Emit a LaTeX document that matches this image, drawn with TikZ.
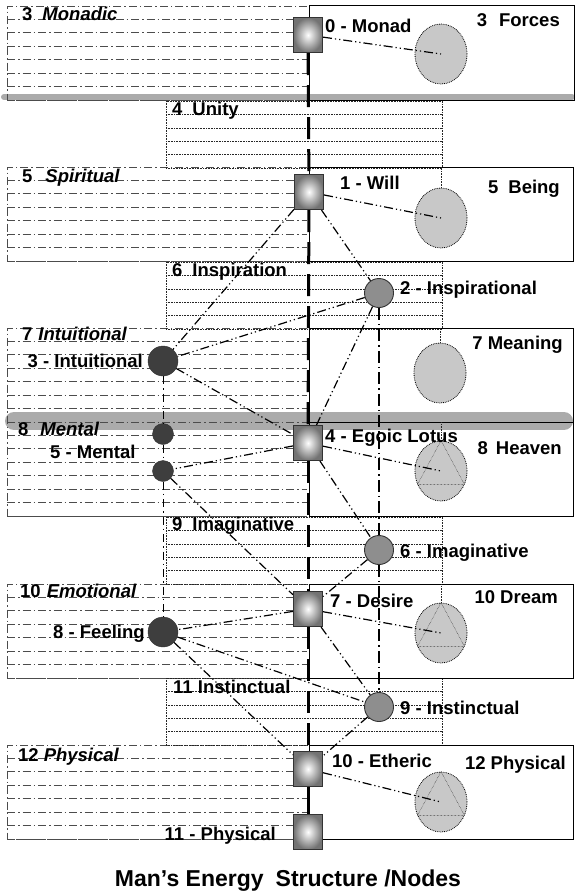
\documentclass[tikz,border=0pt]{standalone}
\usepackage{fontspec}
\setmainfont{Liberation Sans}
\usetikzlibrary{shapes.geometric}
\definecolor{ebar}{HTML}{ABABAB}
\definecolor{efill}{HTML}{C8C8C8}
\definecolor{emid}{HTML}{8E8E8E}
\definecolor{edark}{HTML}{3E3E3E}

\begin{document}
\begin{tikzpicture}[x=1pt, y=-1pt,
    planeline/.style={black!70, line width=0.8pt, dash pattern=on 8pt off 3pt on 1.5pt off 3pt},
    subline/.style={black!85, line width=0.6pt, densely dotted},
    bodyline/.style={black, line width=0.9pt},
    tie/.style={black, line width=1.2pt, dash pattern=on 9pt off 3pt on 1.2pt off 3pt on 1.2pt off 3pt},
    spine/.style={black, line width=3pt, dash pattern=on 22pt off 10pt},
    leftline/.style={black, line width=0.9pt, dash pattern=on 8pt off 4pt on 1.5pt off 4pt},
    midline/.style={black, line width=1.4pt, dash pattern=on 12pt off 4pt on 1.5pt off 4pt},
    sqnode/.style={rectangle, draw=black!80, line width=1.1pt, inner color=white, outer color=black!55, minimum width=29pt, minimum height=35pt, inner sep=0pt},
    bodyring/.style={ellipse, draw=black, line width=0.8pt, densely dotted, fill=efill, minimum width=52pt, minimum height=60pt, inner sep=0pt},
    midring/.style={circle, draw=black!80, line width=0.9pt, fill=emid, minimum size=29pt, inner sep=0pt},
    darkring/.style={circle, draw=black!80, fill=edark, inner sep=0pt},
    lbl/.style={font=\fontsize{18.5}{20}\selectfont\bfseries, inner sep=0pt}]
  \useasboundingbox (0,0) rectangle (576,894);

  % grey plane bars
  \draw[ebar, line width=6pt, line cap=round] (4,97) -- (572,97);
  \draw[ebar, line width=18pt, line cap=round] (14,421) -- (564,421);

  % left planes
  \foreach \ytop/\nrows in {6/7, 167/7, 328/14, 584/7, 745/7} {
    \draw[planeline] (307,\ytop) -- (7,\ytop) -- (7,\ytop+\nrows*13.43) -- (307,\ytop+\nrows*13.43);
    \foreach \i in {1,...,\nrows}
      \draw[planeline] (7,\ytop+\i*13.43) -- (307,\ytop+\i*13.43);
  }
  % middle planes
  \foreach \ytop in {101, 262, 517, 678} {
    \draw[subline] (166,\ytop) rectangle (442,\ytop+67);
    \foreach \i in {1,...,4}
      \draw[subline] (166,\ytop+\i*13.4) -- (442,\ytop+\i*13.4);
  }
  % right planes
  \draw[bodyline] (309,5) rectangle (574,100);
  \draw[bodyline] (309,167) rectangle (573,261);
  \draw[bodyline] (309,328) rectangle (573,422);
  \draw[bodyline] (309,422) rectangle (573,516);
  \draw[bodyline] (309,584) rectangle (573,678);
  \draw[bodyline] (309,745) rectangle (573,839);

  % nodes
  \node[sqnode] (monad) at (308,35) {};
  \node[sqnode] (will) at (309,192) {};
  \node[sqnode] (lotus) at (308,443) {};
  \node[sqnode] (desire) at (308,609) {};
  \node[sqnode] (etheric) at (308,769) {};
  \node[sqnode] (phys) at (308,832) {};

  \node[bodyring] (forces) at (441,54) {};
  \node[bodyring] (being) at (441,218) {};
  \node[bodyring] (meaning) at (440,373) {};
  \node[bodyring] (heaven) at (441,471) {};
  \node[bodyring] (dream) at (441,633) {};
  \node[bodyring] (physc) at (441,802) {};
  \foreach \r in {heaven, dream, physc}
    \draw[black, densely dotted] (\r.north) -- (\r.-30) -- (\r.210) -- cycle;
  \foreach \r/\h in {being/21, meaning/15, heaven/19, dream/19}
    \draw[subline] (\r.north) -- +(0,-\h);

  \node[midring] (inspir) at (379,293) {};
  \node[midring] (imagin) at (379,550) {};
  \node[midring] (instinct) at (379,707) {};

  \node[darkring, minimum size=30pt] (intuit) at (163,361) {};
  \node[darkring, minimum size=21pt] (mentA) at (163,434) {};
  \node[darkring, minimum size=21pt] (mentB) at (163,471) {};
  \node[darkring, minimum size=30pt] (feel) at (163,632) {};

  % connectors
  \foreach \a/\b in {monad/will, will/lotus, lotus/desire, desire/etheric}
    \draw[spine] (\a) -- (\b);
  \draw[black, line width=2pt] (etheric) -- (phys);
  \foreach \a/\b in {intuit/mentA, mentA/mentB, mentB/feel}
    \draw[leftline] (\a) -- (\b);
  \foreach \a/\b in {inspir/imagin, imagin/instinct}
    \draw[midline] (\a) -- (\b);
  \foreach \a/\b in {monad/forces.center, will/being.center, lotus/heaven.center,
      desire/dream.center, etheric/physc.center, will/intuit, will/inspir,
      inspir/intuit, inspir/lotus, intuit/lotus, lotus/mentB, lotus/imagin,
      mentB/desire, imagin/desire, desire/feel, desire/instinct,
      feel/instinct, feel/etheric, instinct/etheric}
    \draw[tie] (\a) -- (\b);

  % labels
  \node[lbl, anchor=base west] (lMonadic) at (22,20) {3\hspace{10pt}\textit{Monadic}};
  \node[lbl, anchor=base east] (lForces) at (560,27) {3\hspace{12pt}Forces};
  \node[lbl, anchor=base west] (lMonad) at (325,32) {0 - Monad};
  \node[lbl, anchor=base west] (lUnity) at (172,115) {4\hspace{10pt}Unity};
  \node[lbl, anchor=base west] (lSpiritual) at (22,182) {5\hspace{13pt}\textit{Spiritual}};
  \node[lbl, anchor=base west] (lWill) at (340,189) {1 - Will};
  \node[lbl, anchor=base east] (lBeing) at (560,193) {5\hspace{10pt}Being};
  \node[lbl, anchor=base west] (lInspiration) at (172,276) {6\hspace{10pt}Inspiration};
  \node[lbl, anchor=base west] (lInspirational) at (400,294) {2 - Inspirational};
  \node[lbl, anchor=base west] (lIntuitionalPlane) at (22,340) {7\hspace{6pt}\textit{Intuitional}};
  \node[lbl, anchor=base east] (lMeaning) at (563,349) {7 Meaning};
  \node[lbl, anchor=base east] (lIntuitional) at (143,367) {3 - Intuitional};
  \node[lbl, anchor=base west] (lMentalPlane) at (18,435) {8\hspace{12pt}\textit{Mental}};
  \node[lbl, anchor=base west] (lMental) at (50,458) {5 - Mental};
  \node[lbl, anchor=base west] (lLotus) at (325,442) {4 - Egoic Lotus};
  \node[lbl, anchor=base east] (lHeaven) at (562,454) {8\hspace{8pt}Heaven};
  \node[lbl, anchor=base west] (lImaginativePlane) at (172,530) {9\hspace{10pt}Imaginative};
  \node[lbl, anchor=base west] (lImaginative) at (400,557) {6 - Imaginative};
  \node[lbl, anchor=base west] (lEmotional) at (20,597) {10\hspace{6pt}\textit{Emotional}};
  \node[lbl, anchor=base west] (lDesire) at (330,607) {7 - Desire};
  \node[lbl, anchor=base east] (lDream) at (558,603) {10 Dream};
  \node[lbl, anchor=base west] (lFeeling) at (53,638) {8 - Feeling};
  \node[lbl, anchor=base west] (lInstinctualPlane) at (173,693) {11 Instinctual};
  \node[lbl, anchor=base west] (lInstinctual) at (400,714) {9 - Instinctual};
  \node[lbl, anchor=base west] (lPhysicalPlane) at (18,761) {12\hspace{5pt}\textit{Physical}};
  \node[lbl, anchor=base west] (lEtheric) at (332,767) {10 - Etheric};
  \node[lbl, anchor=base east] (lPhysicalBody) at (566,769) {12 Physical};
  \node[lbl, anchor=base east] (lPhysical) at (276,840) {11 - Physical};
  \node[font=\fontsize{23}{26}\selectfont\bfseries, anchor=base, inner sep=0pt] (title) at (288,886) {Man’s Energy\hspace{12pt}Structure /Nodes};
\end{tikzpicture}
\end{document}
